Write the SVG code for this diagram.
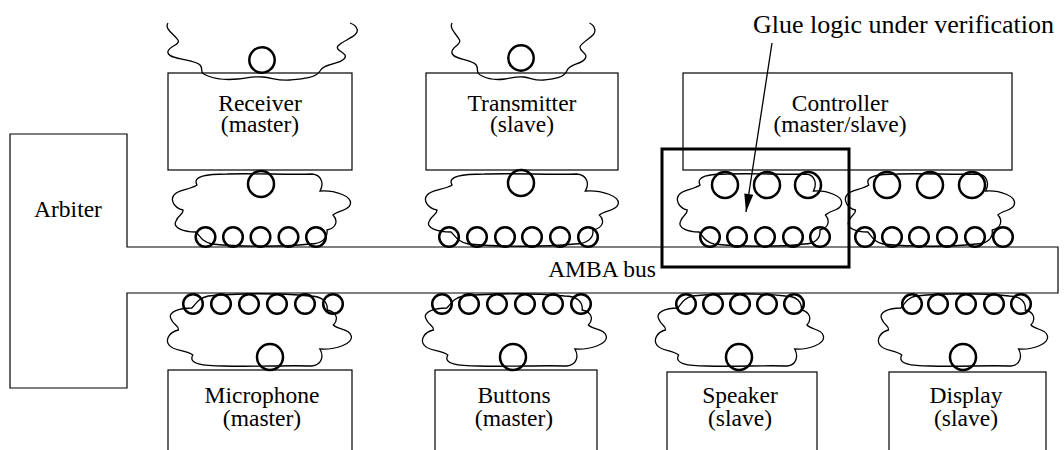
<svg xmlns="http://www.w3.org/2000/svg" xmlns:xlink="http://www.w3.org/1999/xlink" width="1064" height="450" viewBox="0 0 1064 450">
<style>
.box{fill:none;stroke:#000;stroke-width:1.2}
.cl{fill:none;stroke:#000;stroke-width:1.3;vector-effect:non-scaling-stroke}
.c{fill:none;stroke:#000;stroke-width:2.5}
.t{font-family:"Liberation Serif","Times New Roman",serif;font-size:23.5px;fill:#000;text-anchor:middle}
.glue{fill:none;stroke:#000;stroke-width:3}
</style>
<defs>
<path id="cloud" class="cl" d="M25,13 C20,4 35,2 55,2 C85,1 115,3 140,2 C150,3 152,12 148,19 C162,18 182,24 178,33 C176,39 166,38 161,43 C166,48 165,56 155,58 C156,66 150,72 138,72 C110,75 70,75 40,72 C30,70 28,64 24,60 C12,60 0,56 4,49 C6,43 12,42 11,38 C2,36 -2,28 2,23 C6,17 18,18 25,13 Z"/>
<path id="topcloud" class="cl" d="M0,0 C-4,6 6,11 10,17 C13,22 -2,24 0,30 C2,37 26,36 32,42 C36,46 30,50 40,53 C50,57 60,57 70,56 C80,55 85,53 95,54 C105,55 110,58 122,57 C134,56 148,55 152,48 C156,40 170,42 176,36 C182,30 166,28 170,23 C175,17 192,13 189,6 C188,3 185,1 182,0"/>
<marker id="ah" viewBox="0 0 20 10" refX="20" refY="5" markerWidth="20" markerHeight="9" markerUnits="userSpaceOnUse" orient="auto"><path d="M0,0 L20,5 L0,10 Z" fill="#000"/></marker>
</defs>

<g id="arbiter-bus">
<path class="box" d="M10,134 H127 V247 H1058 V293 H127 V388 H10 Z"/>
<text class="t" x="68" y="217">Arbiter</text>
<text class="t" x="602" y="277">AMBA bus</text>
</g>

<g id="receiver">
<use href="#topcloud" transform="translate(168,23)"/>
<circle class="c" cx="262" cy="60" r="12.7"/>
<rect class="box" x="168" y="73" width="184" height="97"/>
<text class="t" x="260" y="111">Receiver</text>
<text class="t" x="260" y="132">(master)</text>
<use href="#cloud" transform="translate(172,172)"/>
<circle class="c" cx="261" cy="184" r="13"/>
<circle class="c" cx="205.5" cy="237" r="9.8"/><circle class="c" cx="233" cy="237" r="9.8"/><circle class="c" cx="260.5" cy="237" r="9.8"/><circle class="c" cx="288.5" cy="237" r="9.8"/><circle class="c" cx="316" cy="237" r="9.8"/>
</g>

<g id="transmitter">
<use href="#topcloud" transform="translate(452,23) scale(0.755,1)"/>
<circle class="c" cx="521" cy="58" r="12.7"/>
<rect class="box" x="426" y="73" width="192" height="97"/>
<text class="t" x="522" y="111">Transmitter</text>
<text class="t" x="522" y="132">(slave)</text>
<use href="#cloud" transform="translate(425,172) scale(1.083,1)"/>
<circle class="c" cx="521" cy="183" r="13"/>
<circle class="c" cx="449" cy="237" r="9.8"/><circle class="c" cx="477" cy="237" r="9.8"/><circle class="c" cx="505" cy="237" r="9.8"/><circle class="c" cx="532" cy="237" r="9.8"/><circle class="c" cx="560" cy="237" r="9.8"/><circle class="c" cx="588" cy="237" r="9.8"/>
</g>

<g id="controller">
<rect class="box" x="683" y="73" width="329" height="97"/>
<text class="t" x="840" y="111">Controller</text>
<text class="t" x="840" y="132">(master/slave)</text>
<use href="#cloud" transform="translate(677,172) scale(0.922,1)"/>
<circle class="c" cx="725" cy="185" r="13"/><circle class="c" cx="767" cy="185" r="13"/><circle class="c" cx="808" cy="185" r="13"/>
<circle class="c" cx="710" cy="237" r="9.8"/><circle class="c" cx="737" cy="237" r="9.8"/><circle class="c" cx="765" cy="237" r="9.8"/><circle class="c" cx="793" cy="237" r="9.8"/><circle class="c" cx="820" cy="237" r="9.8"/>
<use href="#cloud" transform="translate(845,172) scale(0.95,1)"/>
<circle class="c" cx="887" cy="185" r="13"/><circle class="c" cx="930" cy="185" r="13"/><circle class="c" cx="972" cy="185" r="13"/>
<circle class="c" cx="865" cy="237" r="9.8"/><circle class="c" cx="892" cy="237" r="9.8"/><circle class="c" cx="919" cy="237" r="9.8"/><circle class="c" cx="947" cy="237" r="9.8"/><circle class="c" cx="975" cy="237" r="9.8"/><circle class="c" cx="1003" cy="237" r="9.8"/>
</g>

<g id="microphone">
<use href="#cloud" transform="translate(167,368) scale(1.033,-1)"/>
<circle class="c" cx="193" cy="304" r="9.8"/><circle class="c" cx="221" cy="304" r="9.8"/><circle class="c" cx="249" cy="304" r="9.8"/><circle class="c" cx="277" cy="304" r="9.8"/><circle class="c" cx="305" cy="304" r="9.8"/><circle class="c" cx="333" cy="304" r="9.8"/>
<circle class="c" cx="270" cy="357" r="13"/>
<rect class="box" x="168" y="370" width="184" height="100"/>
<text class="t" x="262" y="403">Microphone</text>
<text class="t" x="262" y="426">(master)</text>
</g>

<g id="buttons">
<use href="#cloud" transform="translate(422,368) scale(1.033,-1)"/>
<circle class="c" cx="442" cy="304" r="9.8"/><circle class="c" cx="469" cy="304" r="9.8"/><circle class="c" cx="497" cy="304" r="9.8"/><circle class="c" cx="525" cy="304" r="9.8"/><circle class="c" cx="553" cy="304" r="9.8"/><circle class="c" cx="581" cy="304" r="9.8"/>
<circle class="c" cx="513" cy="357" r="13"/>
<rect class="box" x="435" y="370" width="162" height="100"/>
<text class="t" x="514" y="403">Buttons</text>
<text class="t" x="514" y="426">(master)</text>
</g>

<g id="speaker">
<use href="#cloud" transform="translate(655,368) scale(0.944,-1)"/>
<circle class="c" cx="686" cy="304" r="9.8"/><circle class="c" cx="713" cy="304" r="9.8"/><circle class="c" cx="740" cy="304" r="9.8"/><circle class="c" cx="767" cy="304" r="9.8"/><circle class="c" cx="794" cy="304" r="9.8"/>
<circle class="c" cx="739" cy="357" r="13"/>
<rect class="box" x="667" y="372" width="150" height="100"/>
<text class="t" x="740" y="403">Speaker</text>
<text class="t" x="740" y="426">(slave)</text>
</g>

<g id="display">
<use href="#cloud" transform="translate(878,368) scale(0.95,-1)"/>
<circle class="c" cx="912" cy="304" r="9.8"/><circle class="c" cx="938" cy="304" r="9.8"/><circle class="c" cx="966" cy="304" r="9.8"/><circle class="c" cx="994" cy="304" r="9.8"/><circle class="c" cx="1021" cy="304" r="9.8"/>
<circle class="c" cx="963" cy="357" r="13"/>
<rect class="box" x="889" y="372" width="157" height="100"/>
<text class="t" x="966" y="403">Display</text>
<text class="t" x="966" y="426">(slave)</text>
</g>

<g id="glue-logic">
<rect class="glue" x="662" y="149" width="187" height="118"/>
<text x="753" y="33" style="font-family:'Liberation Serif','Times New Roman',serif;font-size:26px;fill:#000">Glue logic under verification</text>
</g>

<g id="connectors">
<line x1="772" y1="43" x2="746" y2="212" stroke="#000" stroke-width="1.3" marker-end="url(#ah)"/>
</g>
</svg>
